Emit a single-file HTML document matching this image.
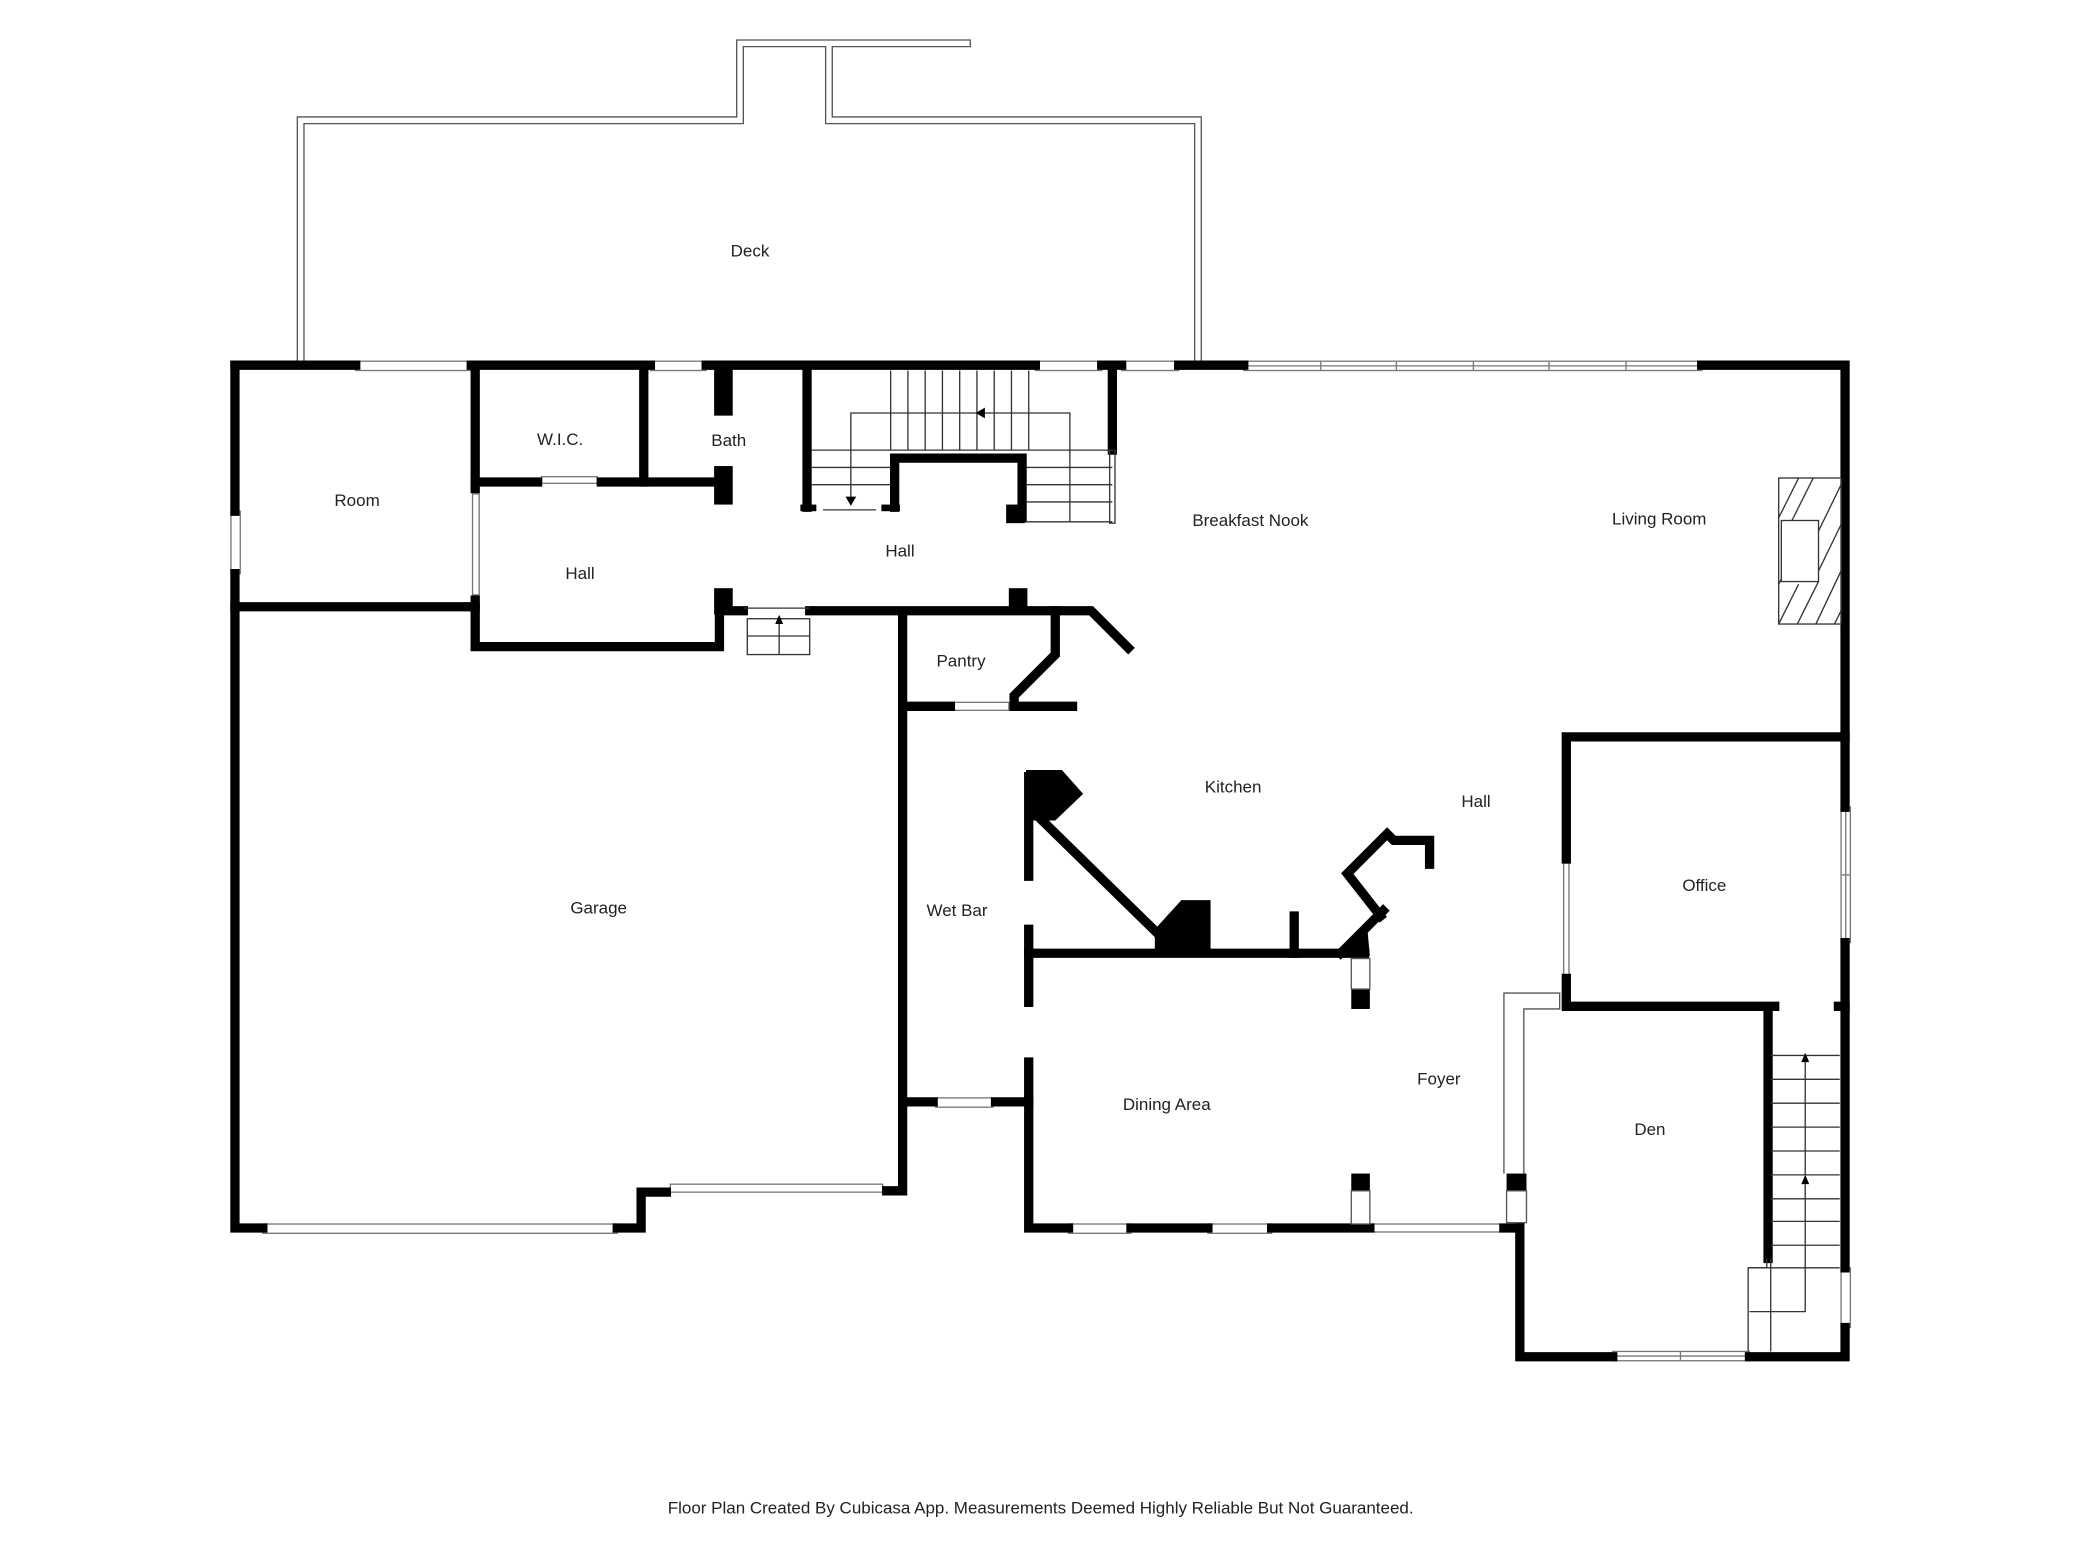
<!DOCTYPE html>
<html><head><meta charset="utf-8"><style>
html,body{margin:0;padding:0;background:#fff;}
svg{display:block}
text{font-family:"Liberation Sans",sans-serif;font-size:12.8px;fill:#222;text-anchor:middle}
</style></head><body>
<svg width="2080" height="1560" viewBox="0 0 1567 1175" xmlns="http://www.w3.org/2000/svg">
<rect width="1567" height="1175" fill="#fff"/>
<g fill="none" stroke="#555" stroke-width="1">
<polyline points="224,275 224,88 555,88 555,30 731,30 731,35 627,35 627,88 905,88 905,275"/>
<polyline points="229,275 229,93 560,93 560,35 622,35 622,93 900,93 900,275"/>
</g>
<g fill="#fff" stroke="#777" stroke-width="1">
<rect x="268" y="272" width="87" height="7"/>
<rect x="490" y="272" width="42" height="7"/>
<rect x="780" y="272" width="50" height="7"/>
<rect x="845" y="272" width="43" height="7"/>
<rect x="937" y="272" width="345" height="7"/>
<rect x="174" y="385" width="7" height="47"/>
<rect x="198" y="922" width="267" height="7"/>
<rect x="505" y="892" width="160" height="6"/>
<rect x="805" y="922" width="47" height="7"/>
<rect x="910" y="922" width="48" height="7"/>
<rect x="1035" y="922" width="95" height="6"/>
<rect x="1215" y="1018" width="103" height="7"/>
<rect x="1387" y="608" width="7" height="102"/>
<rect x="1387" y="955" width="7" height="45"/>
<rect x="705" y="827" width="43" height="7"/>
<rect x="718" y="529" width="42" height="6"/>
<rect x="356" y="372" width="5" height="76"/>
<rect x="1178" y="650" width="4" height="85"/>
<rect x="408" y="359" width="42" height="5"/>
</g>
<g fill="none" stroke="#777" stroke-width="1">
<line x1="937" y1="275.5" x2="1282" y2="275.5"/>
<line x1="995" y1="272" x2="995" y2="279"/><line x1="1052" y1="272" x2="1052" y2="279"/><line x1="1110" y1="272" x2="1110" y2="279"/><line x1="1167" y1="272" x2="1167" y2="279"/><line x1="1225" y1="272" x2="1225" y2="279"/>
<line x1="1390.5" y1="608" x2="1390.5" y2="710"/><line x1="1387" y1="659" x2="1394" y2="659"/>
<line x1="1266" y1="1018" x2="1266" y2="1025"/><line x1="1215" y1="1021.5" x2="1318" y2="1021.5"/>
</g>
<g fill="none" stroke="#000" stroke-width="7" stroke-linecap="square">
<polyline points="177,275 268,275"/>
<polyline points="355,275 490,275"/>
<polyline points="532,275 780,275"/>
<polyline points="830,275 845,275"/>
<polyline points="888,275 937,275"/>
<polyline points="1282,275 1390,275 1390,608"/>
<polyline points="1390,710 1390,955"/>
<polyline points="1390,1000 1390,1022 1318,1022"/>
<polyline points="1215,1022 1145,1022 1145,897"/>
<polyline points="177,275 177,385"/>
<polyline points="177,432 177,925 198,925"/>
<polyline points="465,925 483,925 483,898 502,898"/>
<polyline points="668,897 680,897 680,463"/>
<polyline points="177,457 358,457"/>
<polyline points="358,275 358,368"/>
<polyline points="358,452 358,487 542,487 542,447"/>
<polyline points="358,363 405,363"/>
<polyline points="453,363 545,363"/>
<polyline points="485,275 485,363"/>
<polyline points="608,275 608,382"/>
<polyline points="674,382 674,345 770,345 770,390"/>
<polyline points="838,275 838,339"/>
<polyline points="545,460 560,460"/>
<polyline points="610,460 793,460 822,460 850,488"/>
<polyline points="795,460 795,493 764,524 764,532 808,532"/>
<polyline points="686,532 716,532"/>
<polyline points="686,830 703,830"/>
<polyline points="750,830 775,830 775,925 805,925"/>
<polyline points="775,800 775,830"/>
<polyline points="852,925 910,925"/>
<polyline points="958,925 1032,925"/>
<polyline points="1133,925 1143,925"/>
<polyline points="775,585 775,660"/>
<polyline points="775,700 775,755"/>
<polyline points="775,718 1028,718"/>
<polyline points="780,613 872,703"/>
<polyline points="975,690 975,718"/>
<polyline points="1010,718 1042,686"/>
<polyline points="1040,690 1015,658 1045,628 1050,633 1077,633 1077,651"/>
<polyline points="1180,647 1180,555 1390,555"/>
<polyline points="1180,737 1180,758 1337,758"/>
<polyline points="1332,760 1332,948"/>
<polyline points="1385,758 1390,758"/>
</g>
<g stroke-width="0" fill="#000">
<rect x="538" y="275" width="14" height="38"/>
<rect x="538" y="351" width="14" height="29"/>
<rect x="538" y="443" width="14" height="20"/>
<rect x="760" y="443" width="14" height="17"/>
<rect x="758" y="380" width="14" height="14"/>
<rect x="603" y="380" width="12" height="5"/>
<rect x="664" y="380" width="14" height="5"/>
<polygon points="773,580 800,580 816,598 795,618 773,618"/>
<polygon points="870,700 890,678 912,678 912,720 870,720"/>
<polygon points="1008,720 1030,698 1032,720"/>
<rect x="1018" y="745" width="14" height="15"/>
<rect x="1018" y="884" width="14" height="13"/>
<rect x="1135" y="884" width="15" height="13"/>
</g>
<g fill="#fff" stroke="#555" stroke-width="1">
<rect x="1018" y="722" width="14" height="23"/>
<rect x="1018" y="897" width="14" height="25"/>
<rect x="1135" y="897" width="15" height="24"/>
<polyline points="1133,884 1133,748 1175,748 1175,760 1148,760 1148,884" fill="none"/>
</g>
<g fill="none" stroke="#333" stroke-width="1">
<line x1="611" y1="339" x2="838" y2="339"/>
<line x1="611" y1="352" x2="671" y2="352"/><line x1="611" y1="365" x2="671" y2="365"/>
<line x1="620" y1="384" x2="660" y2="384"/>
<line x1="671" y1="279" x2="671" y2="339"/><line x1="684" y1="279" x2="684" y2="339"/><line x1="697" y1="279" x2="697" y2="339"/><line x1="710" y1="279" x2="710" y2="339"/><line x1="723" y1="279" x2="723" y2="339"/><line x1="736" y1="279" x2="736" y2="339"/><line x1="749" y1="279" x2="749" y2="339"/><line x1="762" y1="279" x2="762" y2="339"/><line x1="775" y1="279" x2="775" y2="339"/>
<line x1="773" y1="352" x2="838" y2="352"/><line x1="773" y1="365" x2="838" y2="365"/><line x1="773" y1="378" x2="838" y2="378"/><line x1="773" y1="393" x2="838" y2="393"/>
<line x1="806" y1="339" x2="806" y2="393"/>
<rect x="836" y="339" width="4" height="55"/>
<polyline points="806,339 806,311 641,311 641,376"/>
<rect x="563" y="466" width="47" height="27"/>
<line x1="563" y1="479" x2="610" y2="479"/><line x1="587" y1="466" x2="587" y2="493"/>
<line x1="560" y1="458" x2="610" y2="458"/>
<line x1="1334" y1="795" x2="1386" y2="795"/><line x1="1334" y1="813" x2="1386" y2="813"/><line x1="1334" y1="831" x2="1386" y2="831"/><line x1="1334" y1="849" x2="1386" y2="849"/><line x1="1334" y1="867" x2="1386" y2="867"/><line x1="1334" y1="885" x2="1386" y2="885"/><line x1="1334" y1="903" x2="1386" y2="903"/><line x1="1334" y1="920" x2="1386" y2="920"/><line x1="1334" y1="938" x2="1386" y2="938"/>
<line x1="1317" y1="955" x2="1386" y2="955"/>
<line x1="1360" y1="800" x2="1360" y2="885"/>
<polyline points="1360,892 1360,988 1318,988"/>
<polyline points="1317,1018 1317,955 1331,955 1331,948"/>
<line x1="1334" y1="948" x2="1334" y2="1018"/>
<rect x="1340" y="360" width="47" height="110"/>
<rect x="1342" y="392" width="28" height="46" fill="#fff"/>
<path d="M1340,390 L1355,360 M1350,392 L1366,360 M1370,400 L1387,365 M1370,430 L1387,395 M1340,470 L1355,440 M1354,470 L1370,438 M1368,470 L1387,430 M1382,470 L1387,460 M1340,440 L1342,436"/>
</g>
<g fill="#000">
<polygon points="735,311 742,307 742,315"/>
<polygon points="641,381 637,374 645,374"/>
<polygon points="587,463 584,470 590,470"/>
<polygon points="1360,793 1357,800 1363,800"/>
<polygon points="1360,885 1357,892 1363,892"/>
</g>
<text x="565" y="193">Deck</text>
<text x="269" y="381">Room</text>
<text x="422" y="335">W.I.C.</text>
<text x="549" y="336">Bath</text>
<text x="437" y="436">Hall</text>
<text x="678" y="419">Hall</text>
<text x="942" y="396">Breakfast Nook</text>
<text x="1250" y="395">Living Room</text>
<text x="724" y="502">Pantry</text>
<text x="929" y="597">Kitchen</text>
<text x="1112" y="608">Hall</text>
<text x="1284" y="671">Office</text>
<text x="451" y="688">Garage</text>
<text x="721" y="690">Wet Bar</text>
<text x="879" y="836">Dining Area</text>
<text x="1084" y="817">Foyer</text>
<text x="1243" y="855">Den</text>
<text x="784" y="1140">Floor Plan Created By Cubicasa App. Measurements Deemed Highly Reliable But Not Guaranteed.</text>
</svg>
</body></html>
